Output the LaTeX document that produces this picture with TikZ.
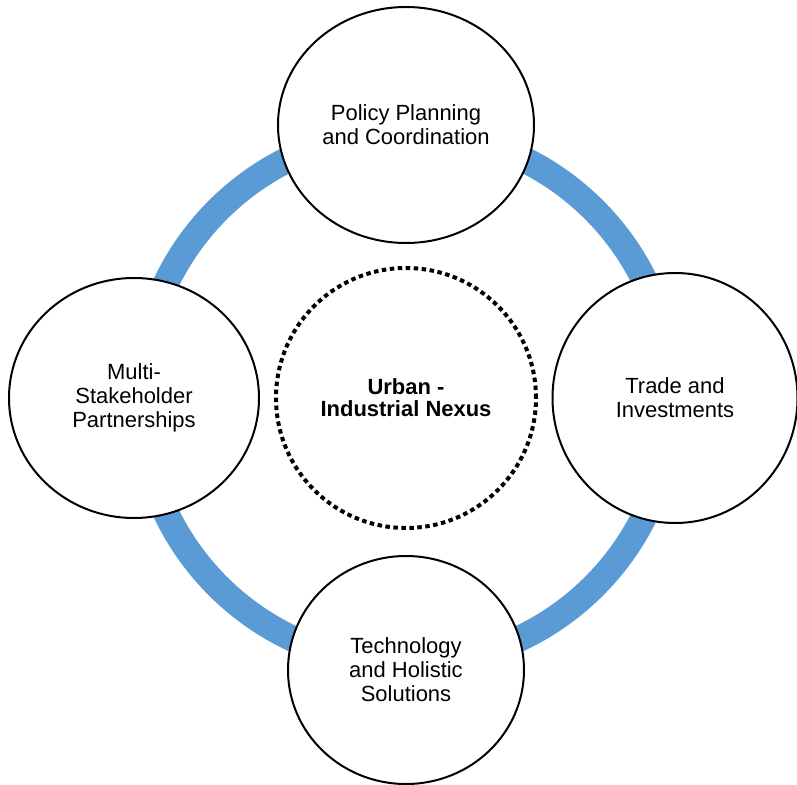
\documentclass[tikz,border=0pt]{standalone}
\usepackage{fontspec}
\setmainfont{Liberation Sans}
\usetikzlibrary{shapes.geometric}
\definecolor{ringblue}{HTML}{5B9BD5}

\begin{document}
\begin{tikzpicture}[
        pillar/.style={ellipse, draw=black, line width=0.04cm, fill=white, inner sep=0pt, align=center,
            font=\fontsize{12.5}{13.7}\selectfont},
        core/.style={circle, draw=black, line width=0.08cm, dash pattern=on 0.09cm off 0.07cm,
            minimum size=5.2cm, inner sep=0pt, align=center, font=\fontsize{12.5}{12.5}\selectfont\bfseries}
    ]
        \useasboundingbox (-8.12,-7.72) rectangle (7.82,7.96);
        \draw[ringblue, line width=0.52cm] (0,0) circle (5.32); % ring
        \node[core] (nexus) at(0,0){Urban -\\Industrial Nexus};
        \node[pillar, minimum width=5.12cm, minimum height=4.72cm] (policy) at(0,5.46){Policy Planning\\and Coordination};
        \node[pillar, minimum width=4.9cm, minimum height=5.0cm] (trade) at(5.38,0){Trade and\\Investments};
        \node[pillar, minimum width=4.72cm, minimum height=4.56cm] (techno) at(0,-5.44){Technology\\and Holistic\\Solutions};
        \node[pillar, minimum width=5.0cm, minimum height=4.8cm] (multi) at(-5.44,0){Multi-\\Stakeholder\\Partnerships};
    \end{tikzpicture}
\end{document}
